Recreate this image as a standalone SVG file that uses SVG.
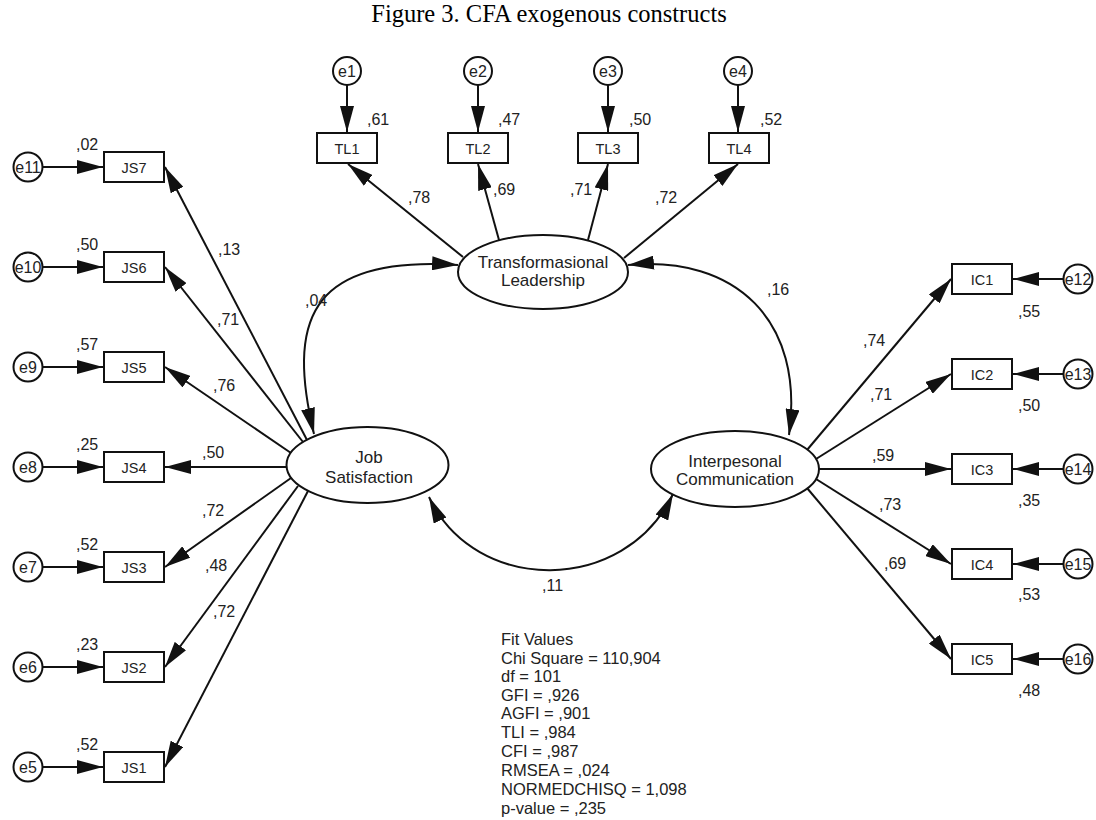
<svg xmlns="http://www.w3.org/2000/svg" width="1096" height="820" viewBox="0 0 1096 820">
  <style>
    .title { font-family: "Liberation Serif", "Times New Roman", serif; font-size: 24.5px; fill: #000; }
    .lbl { font-family: "Liberation Sans", Arial, sans-serif; font-size: 16px; fill: #222; }
    .obs text { font-family: "Liberation Sans", Arial, sans-serif; font-size: 14.5px; fill: #222; text-anchor: middle; }
    .err text { font-family: "Liberation Sans", Arial, sans-serif; font-size: 16px; fill: #222; text-anchor: middle; }
    .lat text { font-family: "Liberation Sans", Arial, sans-serif; font-size: 17px; fill: #222; text-anchor: middle; }
    .obs rect, .err circle, .lat ellipse { fill: #fff; stroke: #111; stroke-width: 2; }
    .path { fill: none; stroke: #111; stroke-width: 2; marker-end: url(#head); }
    .cov { fill: none; stroke: #111; stroke-width: 2; marker-start: url(#head); marker-end: url(#head); }
    .fit { font-family: "Liberation Sans", Arial, sans-serif; font-size: 16.5px; fill: #222; }
  </style>
  <defs>
    <marker id="head" viewBox="0 0 26 14" markerUnits="userSpaceOnUse" markerWidth="26" markerHeight="14" refX="26" refY="7" orient="auto-start-reverse">
      <path d="M0,0 L26,7 L0,14 z" fill="#111"/>
    </marker>
  </defs>

  <rect width="1096" height="820" fill="#fff"/>

  <text class="title" x="549" y="22" text-anchor="middle">Figure 3. CFA exogenous constructs</text>

  <!-- connectors -->
  <g id="connectors">
    <!-- error terms to indicators: TL -->
    <line class="path" x1="347" y1="85" x2="347" y2="132"/>
    <line class="path" x1="478" y1="85" x2="478" y2="132"/>
    <line class="path" x1="608" y1="85" x2="608" y2="132"/>
    <line class="path" x1="738" y1="85" x2="738" y2="132"/>
    <!-- error terms to indicators: JS -->
    <line class="path" x1="43" y1="167" x2="103" y2="167"/>
    <line class="path" x1="43" y1="267" x2="103" y2="267"/>
    <line class="path" x1="43" y1="367" x2="103" y2="367"/>
    <line class="path" x1="43" y1="467" x2="103" y2="467"/>
    <line class="path" x1="43" y1="567" x2="103" y2="567"/>
    <line class="path" x1="43" y1="667" x2="103" y2="667"/>
    <line class="path" x1="43" y1="767" x2="103" y2="767"/>
    <!-- error terms to indicators: IC -->
    <line class="path" x1="1063" y1="279" x2="1013" y2="279"/>
    <line class="path" x1="1063" y1="374" x2="1013" y2="374"/>
    <line class="path" x1="1063" y1="469" x2="1013" y2="469"/>
    <line class="path" x1="1063" y1="564" x2="1013" y2="564"/>
    <line class="path" x1="1063" y1="659" x2="1013" y2="659"/>

    <!-- loadings: Transformasional Leadership -->
    <line class="path" x1="463" y1="257" x2="348" y2="164"/>
    <line class="path" x1="499" y1="240" x2="478" y2="164"/>
    <line class="path" x1="588" y1="240" x2="608" y2="164"/>
    <line class="path" x1="624" y1="258" x2="738" y2="164"/>

    <!-- loadings: Job Satisfaction -->
    <line class="path" x1="307" y1="440" x2="165" y2="167"/>
    <line class="path" x1="303" y1="442" x2="165" y2="267"/>
    <line class="path" x1="291" y1="453" x2="165" y2="367"/>
    <line class="path" x1="287" y1="467" x2="165" y2="467"/>
    <line class="path" x1="291" y1="478" x2="165" y2="567"/>
    <line class="path" x1="298" y1="486" x2="165" y2="667"/>
    <line class="path" x1="308" y1="491" x2="165" y2="767"/>

    <!-- loadings: Interpesonal Communication -->
    <line class="path" x1="807" y1="450" x2="951" y2="279"/>
    <line class="path" x1="816" y1="459" x2="951" y2="374"/>
    <line class="path" x1="819" y1="469" x2="951" y2="469"/>
    <line class="path" x1="816" y1="479" x2="951" y2="564"/>
    <line class="path" x1="807" y1="488" x2="951" y2="659"/>

    <!-- covariances -->
    <path class="cov" d="M314,434 C288,325 305,255 458,265"/>
    <path class="cov" d="M628,265 C735,255 805,320 789,435"/>
    <path class="cov" d="M429,497 C475,595 625,595 673,494"/>
  </g>

  <!-- latent constructs -->
  <g id="TL" class="lat">
    <ellipse cx="543" cy="272" rx="85" ry="37"/>
    <text x="543" y="268">Transformasional</text>
    <text x="543" y="286">Leadership</text>
  </g>
  <g id="JS" class="lat">
    <ellipse cx="367.5" cy="465" rx="81" ry="38"/>
    <text x="369" y="463">Job</text>
    <text x="369" y="483">Satisfaction</text>
  </g>
  <g id="IC" class="lat">
    <ellipse cx="735" cy="469" rx="84" ry="38"/>
    <text x="735" y="467">Interpesonal</text>
    <text x="735" y="485">Communication</text>
  </g>

  <!-- indicators: TL -->
  <g id="TL1" class="obs"><rect x="317" y="133" width="60" height="30"/><text x="347" y="153.5">TL1</text></g>
  <g id="TL2" class="obs"><rect x="448" y="133" width="60" height="30"/><text x="478" y="153.5">TL2</text></g>
  <g id="TL3" class="obs"><rect x="578" y="133" width="60" height="30"/><text x="608" y="153.5">TL3</text></g>
  <g id="TL4" class="obs"><rect x="709" y="133" width="60" height="30"/><text x="739" y="153.5">TL4</text></g>

  <!-- indicators: JS -->
  <g id="JS7" class="obs"><rect x="104" y="152" width="60" height="30"/><text x="134" y="172.5">JS7</text></g>
  <g id="JS6" class="obs"><rect x="104" y="252" width="60" height="30"/><text x="134" y="272.5">JS6</text></g>
  <g id="JS5" class="obs"><rect x="104" y="352" width="60" height="30"/><text x="134" y="372.5">JS5</text></g>
  <g id="JS4" class="obs"><rect x="104" y="452" width="60" height="30"/><text x="134" y="472.5">JS4</text></g>
  <g id="JS3" class="obs"><rect x="104" y="552" width="60" height="30"/><text x="134" y="572.5">JS3</text></g>
  <g id="JS2" class="obs"><rect x="104" y="652" width="60" height="30"/><text x="134" y="672.5">JS2</text></g>
  <g id="JS1" class="obs"><rect x="104" y="752" width="60" height="30"/><text x="134" y="772.5">JS1</text></g>

  <!-- indicators: IC -->
  <g id="IC1" class="obs"><rect x="952" y="264" width="60" height="30"/><text x="982" y="284.5">IC1</text></g>
  <g id="IC2" class="obs"><rect x="952" y="359" width="60" height="30"/><text x="982" y="379.5">IC2</text></g>
  <g id="IC3" class="obs"><rect x="952" y="454" width="60" height="30"/><text x="982" y="474.5">IC3</text></g>
  <g id="IC4" class="obs"><rect x="952" y="549" width="60" height="30"/><text x="982" y="569.5">IC4</text></g>
  <g id="IC5" class="obs"><rect x="952" y="644" width="60" height="30"/><text x="982" y="664.5">IC5</text></g>

  <!-- error terms -->
  <g id="e1" class="err"><circle cx="347" cy="71" r="14"/><text x="347" y="77">e1</text></g>
  <g id="e2" class="err"><circle cx="478" cy="71" r="14"/><text x="478" y="77">e2</text></g>
  <g id="e3" class="err"><circle cx="608" cy="71" r="14"/><text x="608" y="77">e3</text></g>
  <g id="e4" class="err"><circle cx="738" cy="71" r="14"/><text x="738" y="77">e4</text></g>

  <g id="e11" class="err"><circle cx="28" cy="167" r="14.5"/><text x="28" y="173">e11</text></g>
  <g id="e10" class="err"><circle cx="28" cy="267" r="14.5"/><text x="28" y="273">e10</text></g>
  <g id="e9" class="err"><circle cx="28" cy="367" r="14.5"/><text x="28" y="373">e9</text></g>
  <g id="e8" class="err"><circle cx="28" cy="467" r="14.5"/><text x="28" y="473">e8</text></g>
  <g id="e7" class="err"><circle cx="28" cy="567" r="14.5"/><text x="28" y="573">e7</text></g>
  <g id="e6" class="err"><circle cx="28" cy="667" r="14.5"/><text x="28" y="673">e6</text></g>
  <g id="e5" class="err"><circle cx="28" cy="767" r="14.5"/><text x="28" y="773">e5</text></g>

  <g id="e12" class="err"><circle cx="1078" cy="279" r="14.5"/><text x="1078" y="285">e12</text></g>
  <g id="e13" class="err"><circle cx="1078" cy="374" r="14.5"/><text x="1078" y="380">e13</text></g>
  <g id="e14" class="err"><circle cx="1078" cy="469" r="14.5"/><text x="1078" y="475">e14</text></g>
  <g id="e15" class="err"><circle cx="1078" cy="564" r="14.5"/><text x="1078" y="570">e15</text></g>
  <g id="e16" class="err"><circle cx="1078" cy="659" r="14.5"/><text x="1078" y="665">e16</text></g>

  <!-- estimates -->
  <g id="estimates" class="lbl">
    <!-- squared multiple correlations -->
    <text x="367" y="125">,61</text>
    <text x="498" y="125">,47</text>
    <text x="629" y="125">,50</text>
    <text x="760" y="125">,52</text>
    <text x="76" y="150">,02</text>
    <text x="76" y="250">,50</text>
    <text x="76" y="350">,57</text>
    <text x="76" y="450">,25</text>
    <text x="76" y="550">,52</text>
    <text x="76" y="650">,23</text>
    <text x="76" y="750">,52</text>
    <text x="1018" y="317">,55</text>
    <text x="1018" y="411">,50</text>
    <text x="1018" y="506">,35</text>
    <text x="1018" y="600">,53</text>
    <text x="1018" y="696">,48</text>
    <!-- standardized loadings -->
    <text x="408" y="203">,78</text>
    <text x="493" y="195">,69</text>
    <text x="570" y="195">,71</text>
    <text x="655" y="203">,72</text>
    <text x="218" y="255">,13</text>
    <text x="217" y="325">,71</text>
    <text x="213" y="391">,76</text>
    <text x="202" y="458">,50</text>
    <text x="202" y="516">,72</text>
    <text x="205" y="571">,48</text>
    <text x="213" y="617">,72</text>
    <text x="863" y="346">,74</text>
    <text x="870" y="400">,71</text>
    <text x="872" y="461">,59</text>
    <text x="879" y="510">,73</text>
    <text x="884" y="569">,69</text>
    <!-- correlations -->
    <text x="305" y="306">,04</text>
    <text x="767" y="295">,16</text>
    <text x="542" y="591">,11</text>
  </g>

  <!-- model fit summary -->
  <g id="fit" class="fit">
    <text x="501" y="645">Fit Values</text>
    <text x="501" y="664">Chi Square = 110,904</text>
    <text x="501" y="682">df = 101</text>
    <text x="501" y="700.5">GFI = ,926</text>
    <text x="501" y="719">AGFI = ,901</text>
    <text x="501" y="738">TLI = ,984</text>
    <text x="501" y="757">CFI = ,987</text>
    <text x="501" y="776">RMSEA = ,024</text>
    <text x="501" y="795">NORMEDCHISQ = 1,098</text>
    <text x="501" y="813.5">p-value = ,235</text>
  </g>
</svg>
